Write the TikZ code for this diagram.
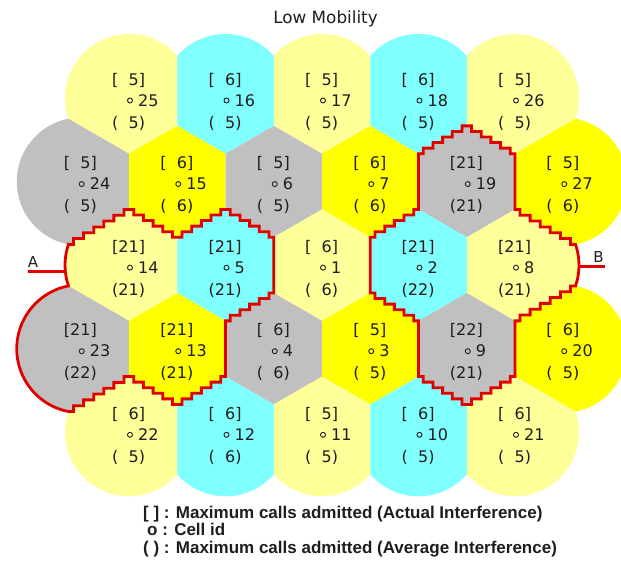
\documentclass[tikz,border=0pt]{standalone}
\usepackage{fontspec}
\setmainfont{DejaVu Sans}
\newfontfamily\legendfont{Liberation Sans}
\usetikzlibrary{calc}

\definecolor{paleyellow}{RGB}{255,255,153}
\definecolor{lightcyan}{RGB}{128,255,255}
\definecolor{brightyellow}{RGB}{255,255,0}
\definecolor{cellgray}{RGB}{192,192,192}
\definecolor{routered}{RGB}{225,0,0}
\definecolor{inkgray}{RGB}{30,30,30}

% half-plane facing a neighbouring cell (bisector at half the cell spacing)
\newcommand\halfplane[3]{%
  \clip ($(#1,#2)+(#3:48.25)+(#3+90:400)$) -- ++(#3-90:800) -- ++(#3+180:800) -- ++(#3+90:800) -- cycle;}
% numbers below ten get a leading figure space
\newcommand\padnum[1]{\ifnum#1<10 \phantom{0}\fi#1}
% stepped (raster-like) segment from (#1,#2) to (#3,#4) in #5 steps
\newcommand\stairs[5]{%
  -- ++({(#3-(#1))/(2*#5)},0)
  \foreach \s in {2,...,#5}{ -- ++(0,{(#4-(#2))/#5}) -- ++({(#3-(#1))/#5},0) }
  -- ++(0,{(#4-(#2))/#5}) -- (#3,#4)}

% row / column / id / colour / actual / average
\def\celllist{%
  1/0/25/paleyellow/5/5, 1/1/16/lightcyan/6/5, 1/2/17/paleyellow/5/5, 1/3/18/lightcyan/6/5, 1/4/26/paleyellow/5/5,
  2/0/24/cellgray/5/5, 2/1/15/brightyellow/6/6, 2/2/6/cellgray/5/5, 2/3/7/brightyellow/6/6, 2/4/19/cellgray/21/21, 2/5/27/brightyellow/5/6,
  3/0/14/paleyellow/21/21, 3/1/5/lightcyan/21/21, 3/2/1/paleyellow/6/6, 3/3/2/lightcyan/21/22, 3/4/8/paleyellow/21/21,
  4/0/23/cellgray/21/22, 4/1/13/brightyellow/21/21, 4/2/4/cellgray/6/6, 4/3/3/brightyellow/5/5, 4/4/9/cellgray/22/21, 4/5/20/brightyellow/6/5,
  5/0/22/paleyellow/6/5, 5/1/12/lightcyan/6/6, 5/2/11/paleyellow/5/5, 5/3/10/lightcyan/6/5, 5/4/21/paleyellow/6/5}

\tikzset{
  celltext/.style={inner sep=0pt, text=inkgray, font=\fontsize{16}{16}\selectfont, anchor=base west},
  idmark/.style={circle, draw=inkgray, line width=0.9pt, inner sep=0pt, minimum size=5pt},
  route/.style={draw=routered, line width=2.8pt, line join=miter},
  legendtext/.style={inner sep=0pt, text=inkgray, font=\legendfont\bfseries\fontsize{17}{17}\selectfont, anchor=base west},
  endlabel/.style={inner sep=0pt, text=inkgray, font=\fontsize{15}{15}\selectfont},
}

\begin{document}
\begin{tikzpicture}[x=1pt, y=-1pt]
\useasboundingbox (0,0) rectangle (621,562);
\fill[white] (0,0) rectangle (621,562);

\begin{scope}
\clip (0,0) rectangle (621,562);

% cell areas: each disc cut by the bisectors towards its existing neighbours
\foreach \rw/\kc/\cid/\fillc/\act/\avg in \celllist {
  \pgfmathsetmacro\cy{98+83.57*(\rw-1)}
  \ifodd\rw \pgfmathsetmacro\cx{129+96.5*\kc}\else \pgfmathsetmacro\cx{80.75+96.5*\kc}\fi
  \begin{scope}
    \ifodd\rw
      \ifnum\kc<4 \halfplane{\cx}{\cy}{0}\fi
      \ifnum\kc>0 \halfplane{\cx}{\cy}{180}\fi
      \ifnum\rw>1 \halfplane{\cx}{\cy}{240}\halfplane{\cx}{\cy}{300}\fi
      \ifnum\rw<5 \halfplane{\cx}{\cy}{60}\halfplane{\cx}{\cy}{120}\fi
    \else
      \ifnum\kc<5 \halfplane{\cx}{\cy}{0}\halfplane{\cx}{\cy}{60}\halfplane{\cx}{\cy}{300}\fi
      \ifnum\kc>0 \halfplane{\cx}{\cy}{180}\halfplane{\cx}{\cy}{120}\halfplane{\cx}{\cy}{240}\fi
    \fi
    \fill[\fillc] (\cx,\cy) circle[radius=64];
  \end{scope}
}

% cell labels
\foreach \rw/\kc/\cid/\fillc/\act/\avg in \celllist {
  \pgfmathsetmacro\cy{98+83.57*(\rw-1)}
  \ifodd\rw \pgfmathsetmacro\cx{129+96.5*\kc}\else \pgfmathsetmacro\cx{80.75+96.5*\kc}\fi
  \node[celltext] (act\cid) at (\cx-17,\cy-13) {[\padnum\act]};
  \node[idmark] (mark\cid) at (\cx+1,\cy+2.5) {};
  \node[celltext] (id\cid) at (\cx+9,\cy+8) {\cid};
  \node[celltext] (avg\cid) at (\cx-17,\cy+30) {(\padnum\avg)};
}

% left group outline (cells 14, 5, 13, 23)
\draw[route] (68.46,244.38)
  \stairs{68.46}{244.38}{129}{209.43}{6}
  \stairs{129}{209.43}{177.25}{237.28}{5}
  \stairs{177.25}{237.28}{225.5}{209.43}{5}
  \stairs{225.5}{209.43}{273.75}{237.28}{5}
  -- (273.75,293.0)
  \stairs{273.75}{293.0}{225.5}{320.85}{5}
  -- (225.5,376.57)
  \stairs{225.5}{376.57}{177.25}{404.42}{5}
  \stairs{177.25}{404.42}{129}{376.57}{5}
  \stairs{129}{376.57}{68.46}{411.52}{6}
  arc[start angle=101.07, end angle=258.93, radius=64]
  arc[start angle=161.07, end angle=198.93, radius=64] -- cycle;

% right group outline (cells 19, 8, 9, 2)
\draw[route] (466.75,125.86)
  \stairs{466.75}{125.86}{515}{153.71}{5}
  -- (515,209.43)
  \stairs{515}{209.43}{575.54}{244.38}{6}
  arc[start angle=-18.93, end angle=18.93, radius=64]
  \stairs{575.54}{285.9}{515}{320.85}{6}
  -- (515,376.57)
  \stairs{515}{376.57}{466.75}{404.42}{5}
  \stairs{466.75}{404.42}{418.5}{376.57}{5}
  -- (418.5,320.85)
  \stairs{418.5}{320.85}{370.25}{293.0}{5}
  -- (370.25,237.28)
  \stairs{370.25}{237.28}{418.5}{209.43}{5}
  -- (418.5,153.71)
  \stairs{418.5}{153.71}{466.75}{125.86}{5}
  -- cycle;

% end points A and B
\coordinate (Astart) at (28,271.5);
\coordinate (Aend) at (65.3,271.5);
\coordinate (Bstart) at (578.9,266.8);
\coordinate (Bend) at (605,266.8);
\draw[route, line cap=butt] (Astart) -- (Aend);
\draw[route, line cap=butt] (Bstart) -- (Bend);
\node[endlabel] (labA) at (33,262.5) {A};
\node[endlabel] (labB) at (598.5,257.5) {B};
\end{scope}

% title
\node[inner sep=0pt, text=inkgray, font=\fontsize{16.8}{16.8}\selectfont, anchor=base] (title) at (325.5,23.5) {Low Mobility};

% legend
\node[legendtext] (leg1) at (143,518) {[ ] : Maximum calls admitted (Actual Interference)};
\node[legendtext] (leg2) at (147,535.5) {o : Cell id};
\node[legendtext] (leg3) at (143,553) {( ) : Maximum calls admitted (Average Interference)};
\end{tikzpicture}
\end{document}
